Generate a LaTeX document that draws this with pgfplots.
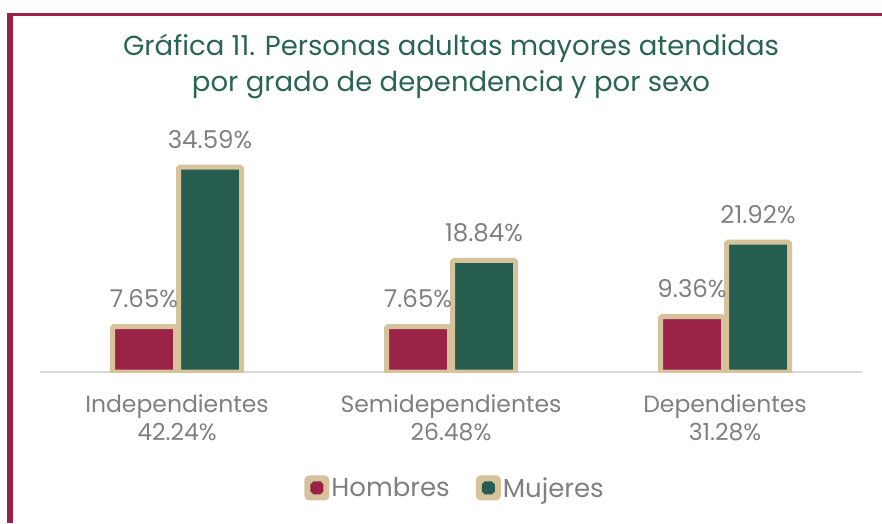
\documentclass[border=0pt]{standalone}
\usepackage{fontspec}
\setmainfont{Poppins}
\usepackage{pgfplots}
\pgfplotsset{compat=1.18}
\definecolor{guinda}{RGB}{155,34,71}
\definecolor{verde}{RGB}{38,93,78}
\definecolor{borde}{RGB}{214,194,155}
\definecolor{titgreen}{RGB}{42,100,82}
\definecolor{txtgray}{RGB}{128,128,128}
\definecolor{axgray}{RGB}{217,217,217}
\begin{document}
\begin{tikzpicture}[x=1pt,y=1pt]
\path[use as bounding box] (0,0) rectangle (882,523);
\draw[guinda, line width=5.4pt] (10,0) -- (10,510.3);
\draw[guinda, line width=3pt] (7.3,508.8) -- (882,508.8);
\node[text=titgreen, font=\fontsize{27.5}{33}\selectfont, inner sep=0] at (451,475) {Gráfica 11. Personas adultas mayores atendidas};
\node[text=titgreen, font=\fontsize{27.5}{33}\selectfont, inner sep=0] at (451,438) {por grado de dependencia y por sexo};
\begin{axis}[
  at={(40pt,151pt)}, anchor=south west,
  scale only axis, width=822pt, height=237pt,
  xmin=-0.5, xmax=2.5, ymin=0, ymax=40,
  axis x line=bottom, axis y line=none,
  x axis line style={draw=axgray, line width=1.2pt, -},
  xtick={0,1,2}, major tick length=0pt, ytick=\empty,
  xticklabels={{Independientes\\42.24\%},{Semidependientes\\26.48\%},{Dependientes\\31.28\%}},
  xticklabel style={align=center, text=txtgray, font=\fontsize{23.5}{28}\selectfont, inner sep=0pt, yshift=-22pt},
  bar width=63pt,
  point meta=explicit symbolic,
  nodes near coords,
  every node near coord/.append style={text=txtgray, font=\fontsize{24.5}{28}\selectfont, anchor=south, inner sep=0pt, yshift=16pt},
  legend style={at={(0.505,-0.489)}, anchor=center, draw=none, fill=none, legend columns=2,
    font=\fontsize{26}{30}\selectfont, text=txtgray,
    /tikz/every even column/.append style={column sep=24pt}},
  legend cell align=left,
]
\addplot[ybar, bar shift=-33pt, fill=guinda, draw=borde, line width=5pt, rounded corners=1.5pt,
  every node near coord/.append style={xshift=-33pt},
  legend image code/.code={\fill[borde, rounded corners=2.5pt] (0pt,-10pt) rectangle (20pt,10pt); \fill[guinda] (6pt,-4pt) rectangle (14pt,4pt);}]
  coordinates {(0,7.65)[7.65\%] (1,7.65)[7.65\%] (2,9.36)[9.36\%]};
\addlegendentry{Hombres}
\addplot[ybar, bar shift=33pt, fill=verde, draw=borde, line width=5pt, rounded corners=1.5pt,
  every node near coord/.append style={xshift=33pt},
  legend image code/.code={\fill[borde, rounded corners=2.5pt] (0pt,-10pt) rectangle (20pt,10pt); \fill[verde] (6pt,-4pt) rectangle (14pt,4pt);}]
  coordinates {(0,34.59)[34.59\%] (1,18.84)[18.84\%] (2,21.92)[21.92\%]};
\addlegendentry{Mujeres}
\end{axis}
\end{tikzpicture}
\end{document}
